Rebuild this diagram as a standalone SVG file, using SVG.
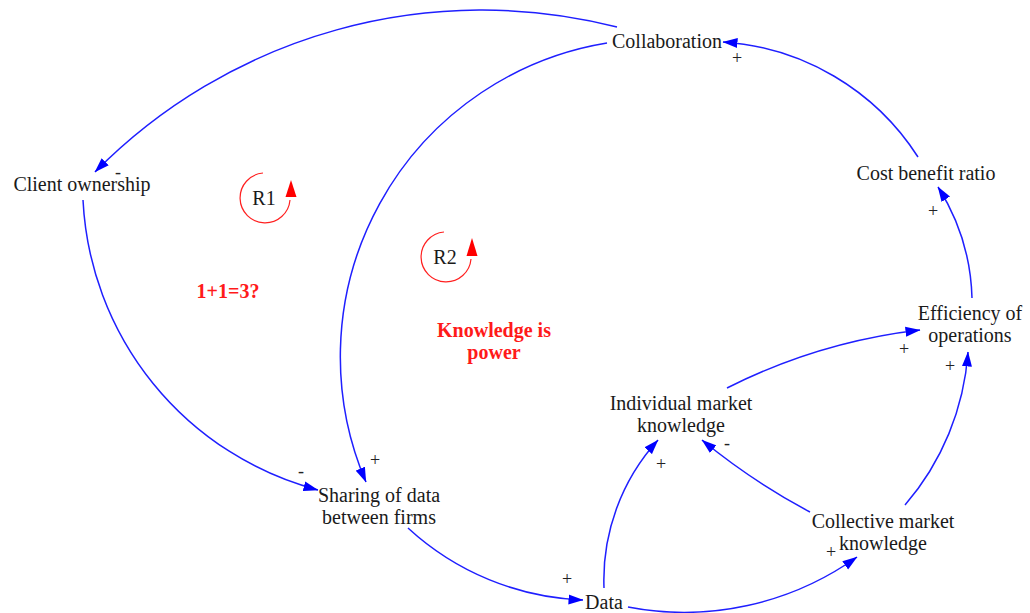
<svg xmlns="http://www.w3.org/2000/svg" width="1030" height="613" viewBox="0 0 1030 613">
  <defs>
    <marker id="arrow" viewBox="0 0 15 11" refX="14.5" refY="5.5" markerWidth="15" markerHeight="11" markerUnits="userSpaceOnUse" orient="auto">
      <path d="M0,0.5 L15,5.5 L0,10.5 Z" fill="#0000ff"/>
    </marker>
    <style>
      text { font-family: 'Liberation Serif', 'DejaVu Serif', serif; }
      .lbl { font-size: 20px; fill: #1a1a1a; text-anchor: middle; }
      .note { font-size: 20px; font-weight: bold; fill: #ff1a1a; text-anchor: middle; }
      .pol { font-size: 18px; fill: #222222; text-anchor: middle; }
      .link { fill: none; stroke: #1f1fff; stroke-width: 1.5; marker-end: url(#arrow); }
      .loop { fill: none; stroke: #ff2020; stroke-width: 1.2; }
      .loophead { fill: #ff0000; }
    </style>
  </defs>

  <rect width="1030" height="613" fill="#ffffff"/>

  <!-- causal links -->
  <g id="connectors">
    <path class="link" d="M617,27 A544,544 0 0 0 95,172"/>
    <path class="link" d="M607,43 A318,318 0 0 0 366,482"/>
    <path class="link" d="M83,200 A316,316 0 0 0 318,490"/>
    <path class="link" d="M408,528 A273,273 0 0 0 583,600"/>
    <path class="link" d="M604,588 A208,208 0 0 1 658,440"/>
    <path class="link" d="M628,607 A298,298 0 0 0 857,557"/>
    <path class="link" d="M810,512 A652,652 0 0 1 702,440"/>
    <path class="link" d="M727,388 A576,576 0 0 1 920,330"/>
    <path class="link" d="M905,505 A262,262 0 0 0 968,352"/>
    <path class="link" d="M972,298 A218,218 0 0 0 938,187"/>
    <path class="link" d="M918,157 A251,251 0 0 0 723,42"/>

    <!-- link polarities -->
    <text class="pol" x="118" y="178" font-family="Liberation Serif, serif">-</text>
    <text class="pol" x="375" y="466" font-family="Liberation Serif, serif">+</text>
    <text class="pol" x="301" y="477" font-family="Liberation Serif, serif">-</text>
    <text class="pol" x="567" y="585" font-family="Liberation Serif, serif">+</text>
    <text class="pol" x="661" y="470" font-family="Liberation Serif, serif">+</text>
    <text class="pol" x="831" y="558" font-family="Liberation Serif, serif">+</text>
    <text class="pol" x="727" y="449" font-family="Liberation Serif, serif">-</text>
    <text class="pol" x="904" y="355" font-family="Liberation Serif, serif">+</text>
    <text class="pol" x="950" y="372" font-family="Liberation Serif, serif">+</text>
    <text class="pol" x="933" y="217" font-family="Liberation Serif, serif">+</text>
    <text class="pol" x="737" y="64" font-family="Liberation Serif, serif">+</text>
  </g>

  <!-- variables -->
  <g id="collaboration">
    <text class="lbl" x="667" y="48" font-family="Liberation Serif, serif">Collaboration</text>
  </g>
  <g id="client-ownership">
    <text class="lbl" x="82" y="191" font-family="Liberation Serif, serif">Client ownership</text>
  </g>
  <g id="cost-benefit-ratio">
    <text class="lbl" x="926" y="180" font-family="Liberation Serif, serif">Cost benefit ratio</text>
  </g>
  <g id="efficiency-of-operations">
    <text class="lbl" x="970" y="320" font-family="Liberation Serif, serif">Efficiency of</text>
    <text class="lbl" x="970" y="342" font-family="Liberation Serif, serif">operations</text>
  </g>
  <g id="individual-market-knowledge">
    <text class="lbl" x="681" y="410" font-family="Liberation Serif, serif">Individual market</text>
    <text class="lbl" x="681" y="432" font-family="Liberation Serif, serif">knowledge</text>
  </g>
  <g id="collective-market-knowledge">
    <text class="lbl" x="883" y="528" font-family="Liberation Serif, serif">Collective market</text>
    <text class="lbl" x="883" y="550" font-family="Liberation Serif, serif">knowledge</text>
  </g>
  <g id="sharing-of-data">
    <text class="lbl" x="379" y="502" font-family="Liberation Serif, serif">Sharing of data</text>
    <text class="lbl" x="379" y="524" font-family="Liberation Serif, serif">between firms</text>
  </g>
  <g id="data">
    <text class="lbl" x="604" y="609" font-family="Liberation Serif, serif">Data</text>
  </g>

  <!-- reinforcing loop markers -->
  <g id="loop-r1">
    <path class="loop" d="M263,173 A25,25 0 1 0 290,200"/>
    <polygon class="loophead" points="291,180 285.5,197 296.5,197"/>
    <text class="lbl" x="264" y="205" font-family="Liberation Serif, serif">R1</text>
  </g>
  <g id="loop-r2">
    <path class="loop" d="M444,232 A25,25 0 1 0 471,259"/>
    <polygon class="loophead" points="472,238 466.5,256 477.5,256"/>
    <text class="lbl" x="445" y="264" font-family="Liberation Serif, serif">R2</text>
  </g>

  <!-- annotations -->
  <g id="note-synergy">
    <text class="note" x="228" y="298" font-family="Liberation Serif, serif">1+1=3?</text>
  </g>
  <g id="note-knowledge">
    <text class="note" x="494" y="337" font-family="Liberation Serif, serif">Knowledge is</text>
    <text class="note" x="494" y="359" font-family="Liberation Serif, serif">power</text>
  </g>
</svg>
